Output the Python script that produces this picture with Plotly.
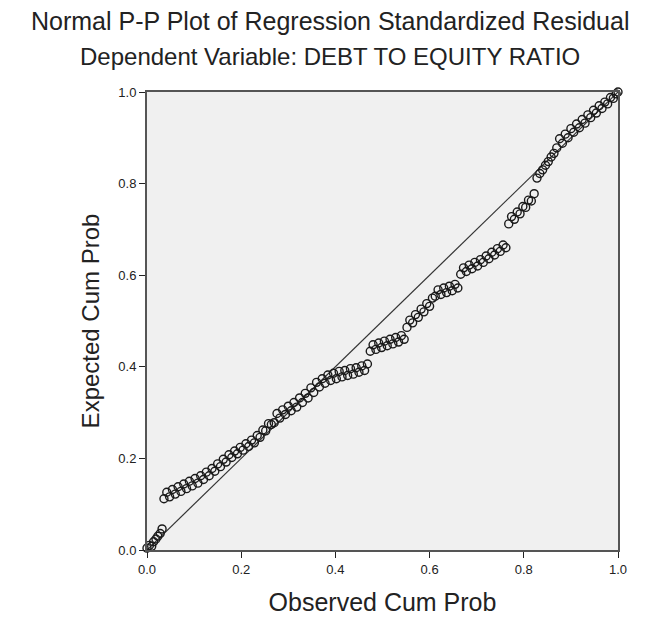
import plotly.graph_objects as go

# Observed cumulative probability (x) and expected cumulative probability (y)
observed = [
    0.000, 0.005, 0.010, 0.014, 0.019, 0.023, 0.028, 0.032,
    0.036, 0.042, 0.048, 0.054, 0.060, 0.066, 0.072, 0.078, 0.084, 0.090,
    0.096, 0.102, 0.108, 0.114, 0.120, 0.126, 0.132, 0.138, 0.144, 0.150,
    0.156, 0.162, 0.168, 0.174, 0.180, 0.186, 0.192, 0.198, 0.204, 0.210,
    0.216, 0.222, 0.228, 0.234, 0.240, 0.246, 0.252, 0.258, 0.264,
    0.270, 0.276, 0.282, 0.288, 0.294, 0.300, 0.306, 0.312, 0.318, 0.324,
    0.330, 0.336, 0.342, 0.348, 0.354, 0.360, 0.366, 0.372, 0.378, 0.384,
    0.390, 0.396, 0.402, 0.408, 0.414, 0.420, 0.426, 0.432, 0.438, 0.444,
    0.450, 0.456, 0.462, 0.468,
    0.474, 0.480, 0.486, 0.492, 0.498, 0.504, 0.510, 0.516, 0.522, 0.528,
    0.534, 0.540, 0.546,
    0.552, 0.558, 0.564, 0.570, 0.576, 0.582, 0.588, 0.594, 0.600, 0.606,
    0.612, 0.618, 0.624, 0.630, 0.636, 0.642, 0.648, 0.654, 0.660,
    0.666, 0.672, 0.678, 0.684, 0.690, 0.696, 0.702, 0.708, 0.714, 0.720,
    0.726, 0.732, 0.738, 0.744, 0.750, 0.756, 0.762,
    0.768, 0.774, 0.780, 0.786, 0.792, 0.798, 0.804, 0.810, 0.816, 0.822,
    0.828, 0.834, 0.840, 0.846, 0.852, 0.858, 0.864,
    0.870, 0.876, 0.882, 0.888, 0.894, 0.900, 0.906, 0.912, 0.918, 0.924,
    0.930, 0.936, 0.942, 0.948, 0.954, 0.960, 0.966, 0.972, 0.978, 0.984,
    0.990, 0.996, 1.000,
]
expected = [
    0.004, 0.010, 0.008, 0.018, 0.024, 0.030, 0.036, 0.046,
    0.112, 0.126, 0.116, 0.132, 0.122, 0.138, 0.128, 0.144, 0.134, 0.150,
    0.140, 0.156, 0.146, 0.162, 0.154, 0.170, 0.162, 0.178, 0.172, 0.188,
    0.182, 0.198, 0.192, 0.208, 0.202, 0.216, 0.210, 0.224, 0.218, 0.232,
    0.226, 0.240, 0.234, 0.250, 0.246, 0.262, 0.260, 0.276, 0.274,
    0.278, 0.298, 0.288, 0.306, 0.296, 0.314, 0.304, 0.322, 0.312, 0.332,
    0.322, 0.342, 0.332, 0.354, 0.344, 0.366, 0.356, 0.374, 0.364, 0.382,
    0.370, 0.386, 0.374, 0.390, 0.378, 0.392, 0.381, 0.396, 0.384, 0.398,
    0.388, 0.402, 0.392, 0.406,
    0.434, 0.448, 0.438, 0.452, 0.442, 0.456, 0.446, 0.460, 0.450, 0.464,
    0.454, 0.468, 0.460,
    0.486, 0.502, 0.496, 0.514, 0.508, 0.526, 0.520, 0.538, 0.532, 0.550,
    0.554, 0.568, 0.558, 0.572, 0.562, 0.576, 0.566, 0.580, 0.572,
    0.602, 0.616, 0.608, 0.622, 0.614, 0.628, 0.620, 0.634, 0.628, 0.642,
    0.636, 0.650, 0.644, 0.658, 0.652, 0.666, 0.660,
    0.712, 0.728, 0.722, 0.738, 0.734, 0.750, 0.748, 0.764, 0.762, 0.778,
    0.812, 0.822, 0.830, 0.840, 0.848, 0.858, 0.866,
    0.878, 0.898, 0.888, 0.908, 0.900, 0.920, 0.912, 0.930, 0.922, 0.940,
    0.932, 0.950, 0.944, 0.960, 0.954, 0.970, 0.964, 0.978, 0.974, 0.988,
    0.986, 0.996, 1.000,
]

ref_line = [0.0, 1.0]
tick_vals = [0.0, 0.2, 0.4, 0.6, 0.8, 1.0]
tick_text = ["0.0", "0.2", "0.4", "0.6", "0.8", "1.0"]

title_main = "Normal P-P Plot of Regression Standardized Residual"
title_sub = "Dependent Variable: DEBT TO EQUITY RATIO"
x_title = "Observed Cum Prob"
y_title = "Expected Cum Prob"

FONT = "Liberation Sans, Arial, sans-serif"

fig = go.Figure()
fig.add_trace(go.Scatter(
    x=ref_line, y=ref_line, mode="lines",
    line=dict(color="#333333", width=1.2),
    hoverinfo="skip", showlegend=False,
))
fig.add_trace(go.Scatter(
    x=observed, y=expected, mode="markers",
    marker=dict(symbol="circle-open", size=8, color="#1a1a1a",
                line=dict(width=1.4, color="#1a1a1a")),
    cliponaxis=False, showlegend=False,
))

axis_common = dict(
    range=[0, 1], tickvals=tick_vals, ticktext=tick_text,
    showgrid=False, zeroline=False, showline=True, mirror=True,
    linecolor="#555555", linewidth=2,
    ticks="outside", ticklen=6, tickcolor="#222222", tickwidth=1,
    tickfont=dict(family=FONT, size=13, color="#222222"),
    automargin=False,
)

fig.update_layout(
    width=662, height=619,
    margin=dict(l=147, r=44, t=92, b=69),
    paper_bgcolor="white", plot_bgcolor="#F0F0F0",
    xaxis=dict(**axis_common,
               title=dict(text=x_title, standoff=18,
                          font=dict(family=FONT, size=25, color="#222222"))),
    yaxis=dict(**axis_common,
               title=dict(text=y_title, standoff=12,
                          font=dict(family=FONT, size=24, color="#222222"))),
    annotations=[
        dict(text=title_main, xref="paper", yref="paper", x=0.388, y=1.0,
             xanchor="center", yanchor="bottom", yshift=55, showarrow=False,
             font=dict(family=FONT, size=25, color="#222222")),
        dict(text=title_sub, xref="paper", yref="paper", x=0.388, y=1.0,
             xanchor="center", yanchor="bottom", yshift=20, showarrow=False,
             font=dict(family=FONT, size=24, color="#222222")),
    ],
)

fig.write_html("out.html")
